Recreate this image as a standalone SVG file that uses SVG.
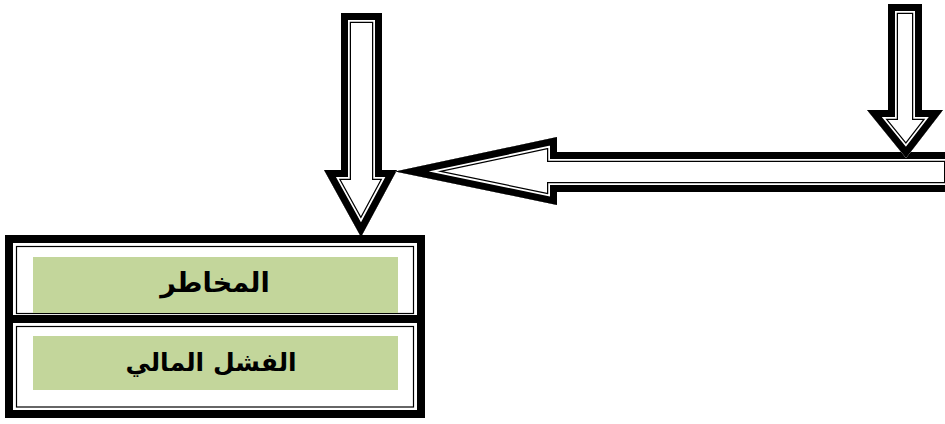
<svg xmlns="http://www.w3.org/2000/svg" xmlns:xlink="http://www.w3.org/1999/xlink" width="945" height="424" viewBox="0 0 945 424">
<style>
.b1{fill:none;stroke:#000;stroke-width:20;stroke-linejoin:miter;stroke-miterlimit:12}
.b2{fill:none;stroke:#fff;stroke-width:17.5;stroke-linejoin:miter;stroke-miterlimit:12}
.b3{fill:none;stroke:#000;stroke-width:14;stroke-linejoin:miter;stroke-miterlimit:12}
.bg{fill:#fff;stroke:none}
.frame{fill:none;stroke:#000;stroke-width:8}
.thin{fill:none;stroke:#000;stroke-width:1.2}
.green{fill:#C3D69B}
.lbl{font-family:"DejaVu Sans","Noto Sans",sans-serif;font-weight:bold;fill:#000;text-anchor:middle;direction:rtl}
</style>
<defs>
<polygon id="aL" points="341,13 382,13 382,170 397,170 361,237 324,170 341,170"/>
<polygon id="aR" points="888,4 922,4 922,110 943,110 906,158 867,110 888,110"/>
<polygon id="aH" points="954,152 557,152 557,137 395,171.5 557,205 557,192 954,192"/>
<clipPath id="cL"><use xlink:href="#aL"/></clipPath>
<clipPath id="cR"><use xlink:href="#aR"/></clipPath>
<clipPath id="cH"><use xlink:href="#aH"/></clipPath>
</defs>
<rect width="945" height="424" fill="#fff"/>
<g id="connectors">
<g id="arrow-left">
<use xlink:href="#aL" class="bg"/>
<g clip-path="url(#cL)"><use xlink:href="#aL" class="b1"/><use xlink:href="#aL" class="b2"/><use xlink:href="#aL" class="b3"/></g>
</g>
<g id="arrow-horizontal">
<use xlink:href="#aH" class="bg"/>
<g clip-path="url(#cH)"><use xlink:href="#aH" class="b1"/><use xlink:href="#aH" class="b2"/><use xlink:href="#aH" class="b3"/></g>
</g>
<g id="arrow-right">
<use xlink:href="#aR" class="bg"/>
<g clip-path="url(#cR)"><use xlink:href="#aR" class="b1"/><use xlink:href="#aR" class="b2"/><use xlink:href="#aR" class="b3"/></g>
</g>
</g>
<g id="node-risks">
<rect x="9" y="239" width="412" height="80" class="frame"/>
<rect x="16.5" y="246.5" width="397" height="67" class="thin"/>
<rect x="33" y="257" width="365" height="56" class="green"/>
<text x="215" y="292" class="lbl" font-size="27">المخاطر</text>
</g>
<g id="node-failure">
<rect x="9" y="319" width="412" height="95" class="frame"/>
<rect x="16.5" y="326.5" width="397" height="80.5" class="thin"/>
<rect x="33" y="336" width="365" height="54" class="green"/>
<text x="211" y="371" class="lbl" font-size="25">الفشل المالي</text>
</g>
</svg>
